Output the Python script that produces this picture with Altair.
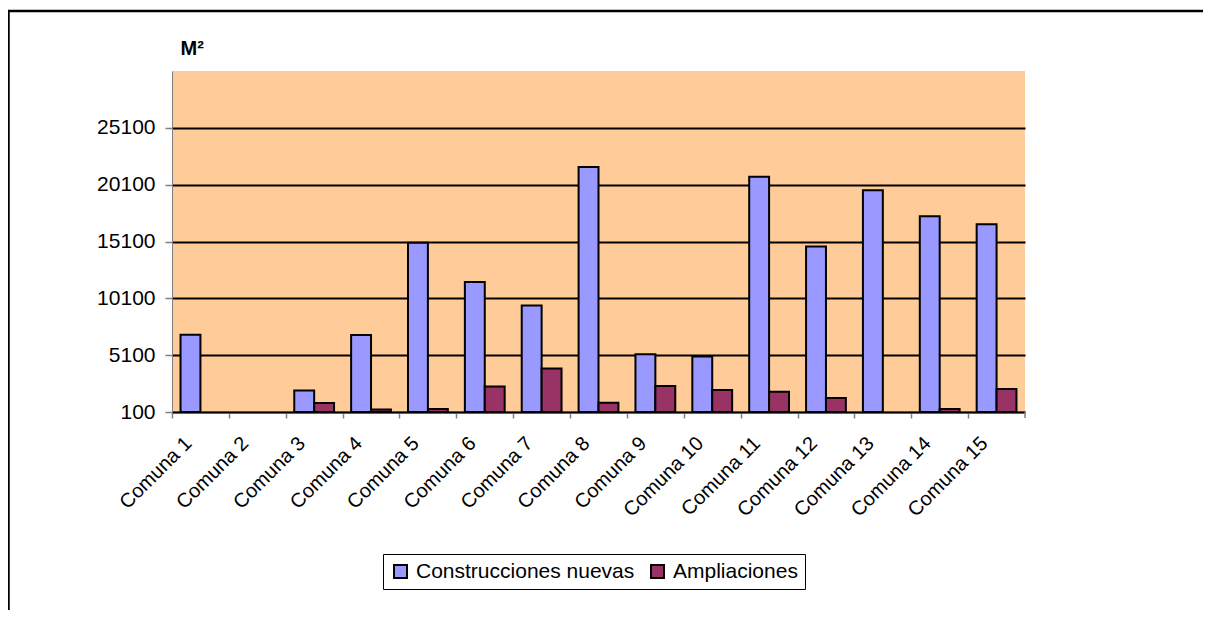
import altair as alt
import pandas as pd

comunas = [f"Comuna {i}" for i in range(1, 16)]
series = ["Construcciones nuevas", "Ampliaciones"]
nuevas = [6900, None, 2000, 6880, 14980, 11530, 9460, 21650, 5190, 4980, 20800, 14660, 19600, 17320, 16620]
ampliaciones = [None, None, 890, 330, 360, 2350, 3930, 920, 2380, 2030, 1880, 1330, None, 360, 2120]
y_ticks = [100, 5100, 10100, 15100, 20100, 25100]
colors = ["#9999FF", "#993366"]

rows = []
for c, n, a in zip(comunas, nuevas, ampliaciones):
    rows.append({"comuna": c, "serie": series[0], "valor": n})
    rows.append({"comuna": c, "serie": series[1], "valor": a})
df = pd.DataFrame(rows)

FONT = "Liberation Sans"

bars = alt.Chart(df).mark_bar(stroke="black", strokeWidth=2).encode(
    x=alt.X("comuna:N", sort=comunas,
            scale=alt.Scale(domain=comunas, paddingInner=0.3, paddingOuter=0.15),
            axis=alt.Axis(title=None, labelAngle=315, labelAlign="right", labelBaseline="middle",
                          labelFontSize=20, labelFont=FONT, labelColor="black", labelPadding=22,
                          labelOffset=16,
                          tickOffset=-28.43, tickSize=6, tickColor="#808080", tickWidth=1.5,
                          domainColor="black", domainWidth=1.5, labelOverlap=False)),
    xOffset=alt.XOffset("serie:N", sort=series, scale=alt.Scale(domain=series)),
    y=alt.Y("valor:Q", scale=alt.Scale(domain=[100, 30100], clamp=True, nice=False, zero=False),
            axis=alt.Axis(title="M²", titleAngle=0, titleX=8, titleY=-13, titleAlign="left",
                          titleBaseline="bottom", titleFontSize=20, titleFontWeight="bold",
                          titleFont=FONT, titleColor="black",
                          values=y_ticks, format="d", labelFontSize=21, labelFont=FONT,
                          labelColor="black", labelPadding=10, tickSize=7, tickColor="#808080",
                          tickWidth=1.5, domainColor="#808080", domainWidth=1,
                          grid=True, gridColor="black", gridWidth=2)),
    color=alt.Color("serie:N", sort=series, scale=alt.Scale(domain=series, range=colors),
                    legend=alt.Legend(title=None, orient="none", legendX=211, legendY=483,
                                      direction="horizontal", strokeColor="black", padding=7,
                                      symbolType="square", symbolSize=169,
                                      symbolStrokeColor="black", symbolStrokeWidth=2,
                                      labelFontSize=21, labelFont=FONT, labelColor="black",
                                      labelOffset=5, columnPadding=12, labelLimit=400)),
)

frame_df = pd.DataFrame({"a": [0]})
frame_top = alt.Chart(frame_df).mark_rule(color="black", strokeWidth=2.5, clip=False).encode(
    x=alt.value(-164), x2=alt.value(1100), y=alt.value(-60))
frame_left = alt.Chart(frame_df).mark_rule(color="black", strokeWidth=2.5, clip=False).encode(
    x=alt.value(-163.5), y=alt.value(-61), y2=alt.value(700))
end_tick = alt.Chart(frame_df).mark_rule(color="#808080", strokeWidth=1.5, clip=False).encode(
    x=alt.value(853), y=alt.value(341), y2=alt.value(347))

chart = alt.layer(frame_top, frame_left, end_tick, bars).properties(
    width=853, height=341,
    padding={"left": 164, "top": 63, "right": 178, "bottom": 198},
    autosize=alt.AutoSizeParams(type="none"),
    background="white",
).configure_view(fill="#FFCC99", stroke=None)

chart.save("out.html", embed_options={"renderer": "svg", "actions": False})
